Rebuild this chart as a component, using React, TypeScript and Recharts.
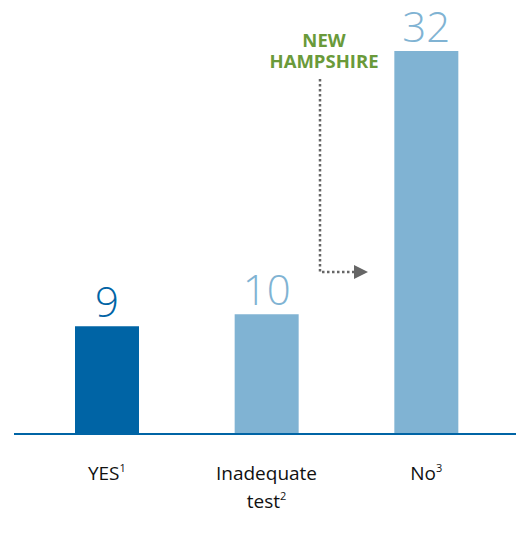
import { BarChart, Bar, XAxis, YAxis, Cell, LabelList } from 'recharts';

const categories = ['YES', 'Inadequate test', 'No'];
const values = [9, 10, 32];
const notes = ['1', '2', '3'];
const barColors = ['#0064a5', '#80b3d3', '#80b3d3'];

const data = categories.map((name, i) => ({ name, value: values[i], note: notes[i], color: barColors[i] }));

const FONT = '"Open Sans", "Noto Sans", sans-serif';

const CategoryTick = (props: any) => {
  const { x, y, index } = props;
  const d = data[index];
  const words = d.name === 'Inadequate test' ? ['Inadequate', 'test'] : [d.name];
  return (
    <text x={x} textAnchor="middle" fontFamily={FONT} fontSize={19} fill="#111">
      {words.map((w, i) => (
        <tspan key={w} x={x} y={y + 38 + i * 28}>
          {w}
          {i === words.length - 1 && (
            <tspan fontSize={11} dy={-8}>
              {d.note}
            </tspan>
          )}
        </tspan>
      ))}
    </text>
  );
};

const ValueLabel = (props: any) => {
  const { x, y, width, value, index } = props;
  return (
    <text
      x={x + width / 2}
      y={y - 9}
      textAnchor="middle"
      fontFamily={FONT}
      fontWeight={300}
      fontSize={42}
      fill={data[index].color}
    >
      {value}
    </text>
  );
};

export default function App() {
  return (
    <div style={{ position: 'fixed', left: 0, top: 0, width: 516, height: 542, background: '#fff' }}>
      <BarChart width={516} height={542} data={data} margin={{ top: 51, right: 0, left: 14, bottom: 0 }}>
        <XAxis
          dataKey="name"
          height={108}
          padding={{ left: 13, right: 10 }}
          axisLine={{ stroke: '#0064a5', strokeWidth: 2 }}
          tickLine={false}
          tick={<CategoryTick />}
          interval={0}
        />
        <YAxis hide domain={[0, 32]} />
        <Bar dataKey="value" barSize={64} isAnimationActive={false}>
          {data.map((d) => (
            <Cell key={d.name} fill={d.color} />
          ))}
          <LabelList dataKey="value" content={<ValueLabel />} />
        </Bar>
      </BarChart>
      <svg width={516} height={542} style={{ position: 'absolute', left: 0, top: 0, pointerEvents: 'none' }}>
        {/* annotation */}
        <text x={324} y={47} textAnchor="middle" fontFamily={FONT} fontWeight={700} fontSize={18.5} fill="#6a9a3a">
          NEW
        </text>
        <text x={324} y={68} textAnchor="middle" fontFamily={FONT} fontWeight={700} fontSize={18.5} fill="#6a9a3a">
          HAMPSHIRE
        </text>
        <path
          d="M320 79 V272 H354"
          fill="none"
          stroke="#666"
          strokeWidth={2.5}
          strokeDasharray="2.5 2.5"
        />
        <path d="M354 265 L368 272 L354 279 Z" fill="#666" />
      </svg>
    </div>
  );
}
